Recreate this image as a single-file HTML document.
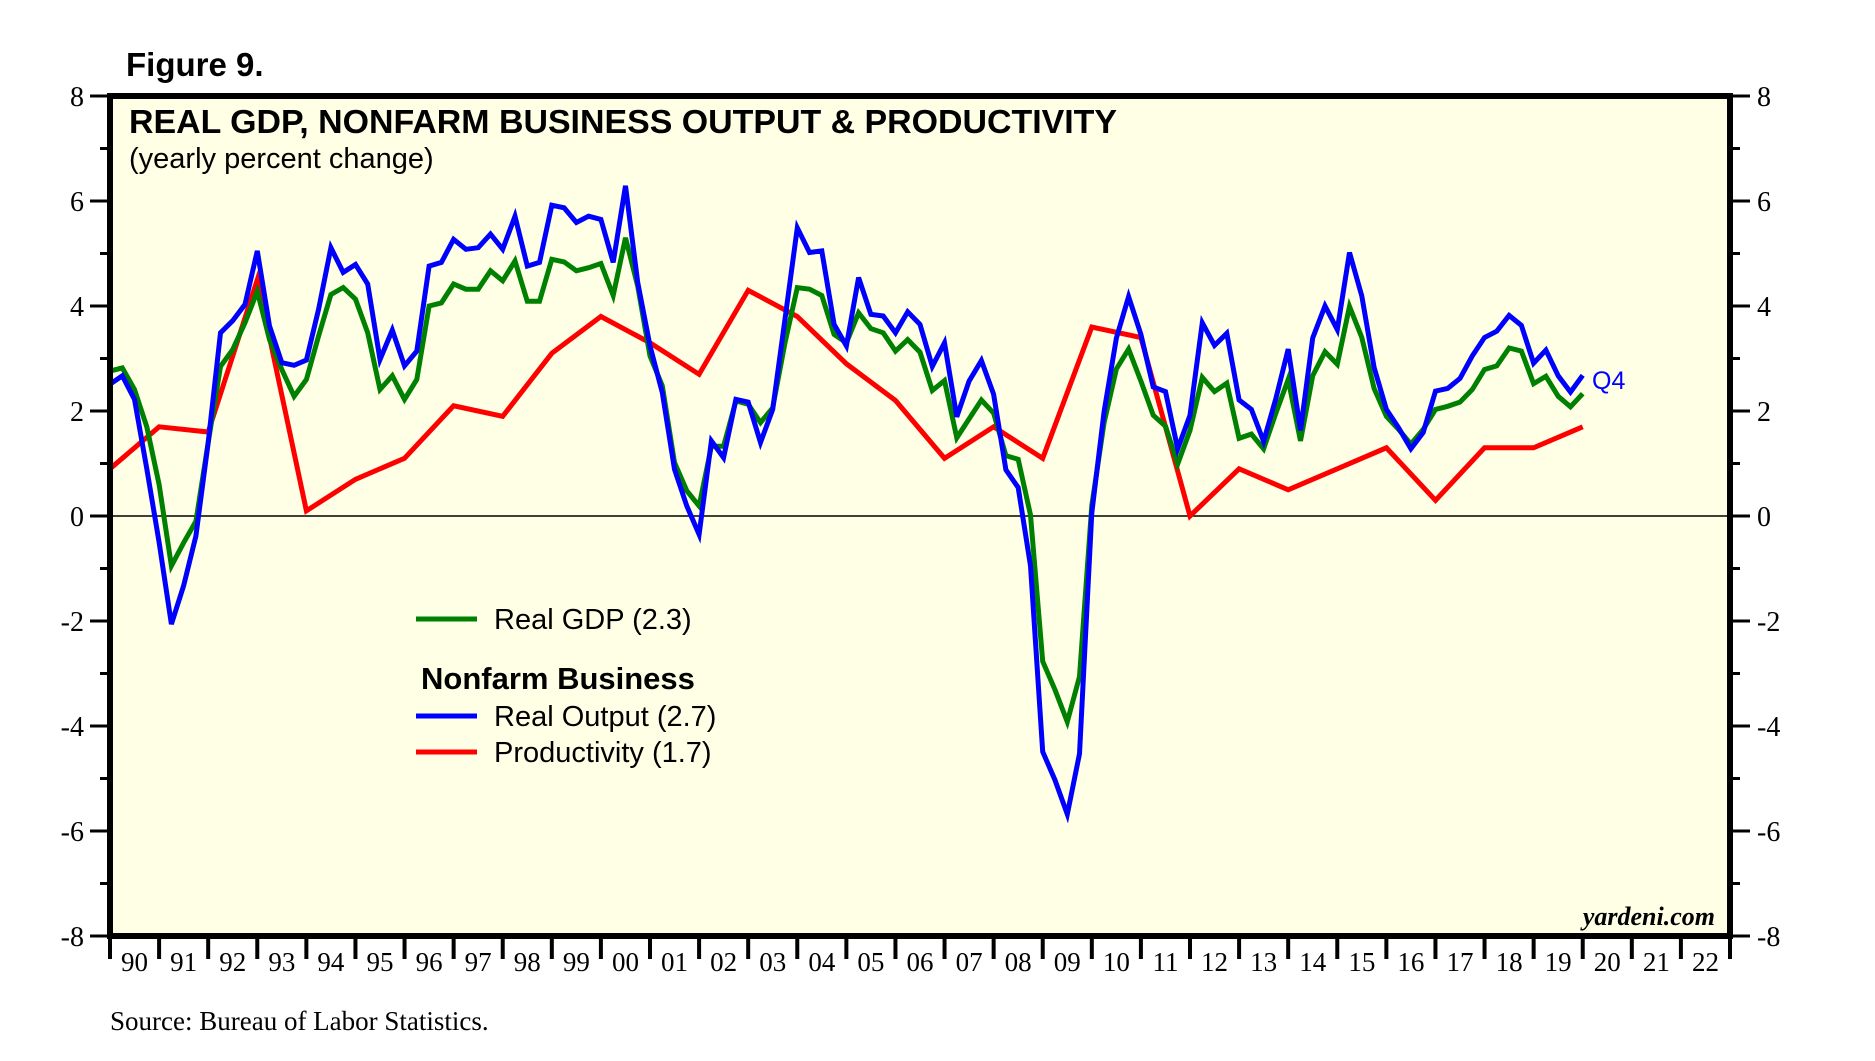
<!DOCTYPE html>
<html><head><meta charset="utf-8"><style>
html,body{margin:0;padding:0;background:#fff;}
svg{display:block;}
</style></head><body>
<svg id="chart" width="1875" height="1061" xmlns="http://www.w3.org/2000/svg">
<rect x="110" y="96" width="1620" height="840" fill="#FFFFE6"/>
<text x="126" y="76" font-family="Liberation Sans, sans-serif" font-weight="bold" font-size="33">Figure 9.</text>
<g id="axes"></g>
<g id="series"></g>
<rect x="110" y="96" width="1620" height="840" fill="none" stroke="#000" stroke-width="6"/>
<text x="129" y="133" font-family="Liberation Sans, sans-serif" font-weight="bold" font-size="33" textLength="988" lengthAdjust="spacingAndGlyphs">REAL GDP, NONFARM BUSINESS OUTPUT &amp; PRODUCTIVITY</text>
<text x="129" y="168" font-family="Liberation Sans, sans-serif" font-size="29">(yearly percent change)</text>
<g font-family="Liberation Sans, sans-serif" font-size="29">
<line x1="416" y1="619" x2="477" y2="619" stroke="#008000" stroke-width="5"/>
<text x="494" y="629">Real GDP (2.3)</text>
<text x="421" y="689" font-weight="bold" font-size="31">Nonfarm Business</text>
<line x1="416" y1="716" x2="477" y2="716" stroke="#0000FF" stroke-width="5"/>
<text x="494" y="726">Real Output (2.7)</text>
<line x1="416" y1="752" x2="477" y2="752" stroke="#FF0000" stroke-width="5"/>
<text x="494" y="762">Productivity (1.7)</text>
</g>
<text x="1592" y="389" font-family="Liberation Sans, sans-serif" font-size="25" fill="#0000FF">Q4</text>
<text x="1715" y="925" text-anchor="end" font-family="Liberation Serif, serif" font-weight="bold" font-style="italic" font-size="26">yardeni.com</text>
<text x="110" y="1030" font-family="Liberation Serif, serif" font-size="27">Source: Bureau of Labor Statistics.</text>
</svg>
<script>
const yTicks = [-8,-6,-4,-2,0,2,4,6,8];
const yearLabels = ["90","91","92","93","94","95","96","97","98","99","00","01","02","03","04","05","06","07","08","09","10","11","12","13","14","15","16","17","18","19","20","21","22"];
const gdp = [2.76,2.82,2.41,1.7,0.6,-0.95,-0.51,-0.1,1.4,2.85,3.17,3.68,4.28,3.36,2.79,2.28,2.6,3.43,4.22,4.35,4.13,3.49,2.41,2.67,2.22,2.6,4.0,4.06,4.42,4.32,4.32,4.67,4.48,4.86,4.09,4.09,4.89,4.84,4.67,4.73,4.81,4.2,5.3,4.38,3.05,2.48,1.02,0.48,0.19,1.33,1.33,2.19,2.13,1.78,2.06,3.3,4.35,4.32,4.2,3.46,3.3,3.87,3.57,3.49,3.14,3.36,3.12,2.39,2.58,1.49,1.85,2.21,1.96,1.15,1.08,0.02,-2.77,-3.31,-3.92,-3.06,0.2,1.78,2.8,3.18,2.57,1.92,1.71,0.99,1.63,2.64,2.37,2.53,1.48,1.56,1.28,1.96,2.6,1.43,2.67,3.13,2.89,3.99,3.4,2.43,1.9,1.65,1.37,1.65,2.03,2.09,2.17,2.41,2.79,2.86,3.2,3.14,2.52,2.66,2.28,2.08,2.33];
const output = [2.51,2.67,2.22,0.9,-0.5,-2.06,-1.33,-0.38,1.4,3.49,3.72,4.03,5.05,3.62,2.92,2.87,2.97,3.94,5.11,4.64,4.79,4.42,2.98,3.54,2.86,3.14,4.76,4.83,5.27,5.08,5.11,5.37,5.08,5.71,4.76,4.83,5.92,5.87,5.59,5.71,5.65,4.83,6.29,4.45,3.24,2.35,0.89,0.19,-0.35,1.43,1.11,2.22,2.17,1.4,2.03,3.75,5.49,5.02,5.05,3.65,3.24,4.54,3.84,3.81,3.49,3.89,3.65,2.85,3.3,1.89,2.57,2.96,2.32,0.88,0.54,-0.95,-4.49,-5.03,-5.68,-4.53,0.06,1.99,3.39,4.18,3.46,2.46,2.37,1.28,1.92,3.68,3.25,3.48,2.21,2.03,1.42,2.24,3.18,1.63,3.39,4.0,3.55,5.02,4.19,2.83,2.03,1.68,1.28,1.59,2.38,2.43,2.62,3.05,3.4,3.52,3.82,3.63,2.91,3.16,2.67,2.36,2.68];
const productivity = [0.9,1.7,1.6,4.5,0.1,0.7,1.1,2.1,1.9,3.1,3.8,3.3,2.7,4.3,3.8,2.9,2.2,1.1,1.7,1.1,3.6,3.4,0.0,0.9,0.5,0.9,1.3,0.3,1.3,1.3,1.7];
const startYear = 1990;

const NS = "http://www.w3.org/2000/svg";
const L = 110, R = 1730, T = 96, B = 936, Y0 = 1990, Y1 = 2023;
function xScale(year){ return L + (year - Y0) * (R - L) / (Y1 - Y0); }
function yScale(v){ return T + (8 - v) * (B - T) / 16; }
function mk(tag, attrs, parent){ const e = document.createElementNS(NS, tag); for (const k in attrs) e.setAttribute(k, attrs[k]); parent.appendChild(e); return e; }
const axes = document.getElementById('axes');
const series = document.getElementById('series');

const zl = mk('line', {x1:L, x2:R, y1:yScale(0), y2:yScale(0), stroke:'#000', 'stroke-width':1.5}, axes);



for (let v = -8; v <= 8; v++) {
  const major = v % 2 === 0;
  const len = major ? 20 : 10;
  const y = yScale(v);
  const t1 = mk('line', {x1:L-len, x2:L, y1:y, y2:y, stroke:'#000', 'stroke-width':3}, axes);
  
  
  const t2 = mk('line', {x1:R, x2:R+len, y1:y, y2:y, stroke:'#000', 'stroke-width':3}, axes);
  
  
}
yTicks.forEach(v => {
  const y = yScale(v) + 10;
  const a = mk('text', {x:84, y:y, 'text-anchor':'end', 'font-family':'Liberation Serif, serif', 'font-size':28}, axes);
  a.textContent = v;
  
  
  const b = mk('text', {x:1757, y:y, 'font-family':'Liberation Serif, serif', 'font-size':28}, axes);
  b.textContent = v;
  
  
});
for (let k = 0; k <= yearLabels.length; k++) {
  const x = xScale(Y0 + k);
  const t = mk('line', {x1:x, x2:x, y1:B, y2:B+23, stroke:'#000', 'stroke-width':4}, axes);
  
  
}
yearLabels.forEach((lab, k) => {
  const t = mk('text', {x:xScale(Y0 + k + 0.5), y:971, 'text-anchor':'middle', 'font-family':'Liberation Serif, serif', 'font-size':27}, axes);
  t.textContent = lab;
  
  
});

function line(vals, step, color, name){
  const pts = vals.map((v, i) => xScale(startYear + i * step).toFixed(1) + ',' + yScale(v).toFixed(1)).join(' ');
  const p = mk('polyline', {points:pts, fill:'none', stroke:color, 'stroke-width':5, 'stroke-linejoin':'miter'}, series);
  
  
}
line(productivity, 1, '#FF0000', 'productivity-line');
line(gdp, 0.25, '#008000', 'real-gdp-line');
line(output, 0.25, '#0000FF', 'real-output-line');
</script>
</body></html>
